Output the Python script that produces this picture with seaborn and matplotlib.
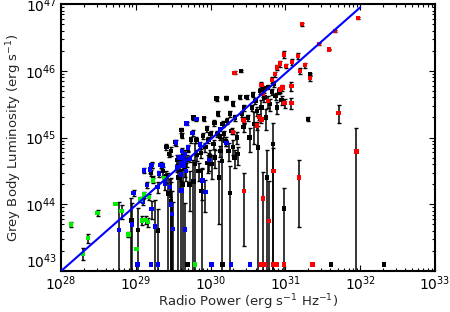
import numpy as np
import pandas as pd
import matplotlib
matplotlib.use("Agg")
import matplotlib.pyplot as plt
import matplotlib.ticker as mtick
import seaborn as sns

# values are log10 of radio power / grey body luminosity, err is relative (dy / y)
black_logp = [28.94, 29.03, 29.20, 29.23, 29.30, 29.36, 29.40, 29.43, 29.47, 29.41,
              29.44, 29.47, 29.52, 29.55, 29.57, 29.59, 29.61, 29.62, 29.63, 29.66,
              29.68, 29.70, 29.72, 29.74, 29.77, 29.77, 29.79, 29.81, 29.82, 29.84,
              29.87, 29.88, 29.90, 29.91, 29.93, 29.95, 29.96, 29.97, 29.99, 30.00,
              30.02, 30.04, 30.05, 30.06, 30.08, 30.09, 30.10, 30.11, 30.125, 30.13,
              30.15, 30.16, 30.18, 30.20, 30.21, 30.22, 30.24, 30.26, 30.26, 30.28,
              30.30, 30.30, 30.32, 30.33, 30.35, 30.36, 30.39, 30.41, 30.42, 30.44,
              30.45, 30.48, 30.50, 30.52, 30.55, 30.57, 30.58, 30.60, 30.62, 30.63,
              30.66, 30.68, 30.705, 30.72, 30.74, 30.75, 30.77, 30.79, 30.82, 30.83,
              30.85, 30.87, 30.89, 30.92, 30.95, 30.98, 31.30, 31.33,
              29.69, 30.16, 31.61, 32.32]
black_logl = [43.76, 43.62, 44.47, 44.38, 43.61, 44.50, 44.42, 44.16, 44.05, 44.86,
              44.75, 44.80, 44.93, 44.66, 44.40, 44.50, 45.11, 45.03, 44.30, 44.56,
              44.66, 44.83, 44.30, 44.97, 45.30, 44.34, 44.60, 44.96, 44.74, 44.50,
              44.77, 44.20, 45.02, 45.285, 44.86, 45.135, 44.62, 44.96, 44.72, 45.05,
              44.60, 44.90, 45.22, 44.70, 45.585, 45.05, 45.36, 44.40, 45.01, 44.80,
              44.65, 45.20, 45.05, 44.95, 45.595, 45.25, 44.80, 44.17, 45.36, 45.10,
              44.86, 45.51, 44.70, 45.30, 45.00, 44.75, 45.61, 46.00, 45.35, 45.16,
              45.45, 45.61, 45.30, 45.00, 45.45, 45.645, 45.20, 45.55, 45.40, 44.85,
              45.70, 45.45, 45.735, 45.60, 45.30, 44.40, 45.76, 45.50, 45.685, 44.90,
              45.80, 45.62, 45.45, 45.70, 45.56, 43.94, 45.28, 45.95,
              43.10, 43.10, 43.10, 43.10]
black_err = [1.2, 1.1, 0.1, 0.1, 1.1, 0.15, 0.2, 1.05, 1.2, 0.1,
             0.1, 0.15, 0.1, 0.2, 1.1, 0.5, 0.08, 0.08, 1.1, 0.3,
             0.2, 0.1, 0.6, 0.1, 0.07, 1.1, 1.1, 0.1, 0.2, 0.3,
             0.15, 1.2, 0.1, 0.07, 0.15, 0.1, 0.3, 0.1, 0.25, 0.1,
             0.4, 0.15, 0.1, 0.3, 0.07, 0.1, 0.08, 0.8, 0.1, 0.2,
             1.2, 0.1, 0.1, 0.15, 0.07, 0.1, 0.3, 1.5, 0.1, 0.1,
             0.25, 0.08, 0.3, 0.1, 0.2, 0.3, 0.07, 0.03, 0.1, 0.15,
             0.1, 0.08, 0.1, 0.4, 0.1, 0.08, 0.5, 0.1, 0.15, 1.1,
             0.1, 0.3, 0.1, 0.15, 0.35, 1.6, 0.08, 0.2, 0.1, 1.1,
             0.1, 0.12, 0.2, 0.1, 0.15, 1.0, 0.08, 0.05,
             0.0, 0.0, 0.0, 0.0]

blue_logp = [28.775, 28.945, 28.97, 29.10, 29.11, 29.15, 29.19, 29.21, 29.21, 29.22,
             29.26, 29.29, 29.31, 29.33, 29.355, 29.39, 29.46, 29.47, 29.48, 29.50,
             29.54, 29.55, 29.58, 29.60, 29.60, 29.61, 29.62, 29.63, 29.64, 29.65,
             29.66, 29.66, 29.67, 29.68, 29.70, 29.72, 29.76, 29.81, 29.86, 29.89,
             29.93, 29.98, 30.125, 30.21,
             29.025, 29.20, 29.30, 30.01, 30.27, 30.53]
blue_logl = [43.62, 43.70, 44.17, 44.035, 44.51, 44.29, 44.52, 44.585, 43.935, 44.59,
             43.67, 44.26, 44.46, 44.59, 44.58, 44.31, 44.26, 43.995, 43.86, 43.635,
             44.925, 44.55, 44.70, 44.62, 44.45, 44.21, 44.80, 44.70, 44.58, 44.65,
             44.75, 43.625, 44.50, 45.21, 44.85, 44.68, 45.07, 45.275, 44.895, 44.36,
             44.185, 44.66, 45.125, 44.92,
             43.10, 43.10, 43.10, 43.10, 43.10, 43.10]
blue_err = [1.6, 1.1, 0.1, 0.1, 0.08, 0.1, 0.1, 0.1, 0.3, 0.1,
            1.5, 0.2, 0.1, 0.1, 0.1, 0.2, 0.3, 1.2, 1.2, 1.5,
            0.1, 0.15, 0.1, 0.1, 0.2, 1.0, 0.1, 0.1, 0.1, 0.1,
            0.15, 1.5, 0.3, 0.05, 0.1, 0.1, 0.1, 0.05, 0.1, 0.5,
            0.5, 0.3, 0.05, 0.1,
            0.0, 0.0, 0.0, 0.0, 0.0, 0.0]

green_logp = [28.134, 28.29, 28.36, 28.49, 28.73, 28.81, 28.90, 29.01, 29.06, 29.08,
              29.11, 29.13, 29.16, 29.18, 29.23, 29.38, 29.79]
green_logl = [43.70, 43.26, 43.495, 43.875, 44.005, 43.90, 43.55, 43.33, 44.075, 43.76,
              44.145, 43.77, 43.735, 44.11, 44.36, 44.395, 43.10]
green_err = [0.1, 0.2, 0.17, 0.1, 0.0, 0.25, 0.1, 0.0, 0.1, 0.15,
             0.1, 0.15, 0.15, 0.1, 0.1, 0.0, 0.0]

red_logp = [30.30, 30.32, 30.44, 30.45, 30.45, 30.62, 30.65, 30.68, 30.68, 30.70,
            30.70, 30.77, 30.78, 30.82, 30.84, 30.86, 30.89, 30.93, 30.93, 30.96,
            30.98, 30.99, 31.01, 31.08, 31.08, 31.09, 31.17, 31.18, 31.195, 31.22,
            31.26, 31.33, 31.45, 31.58, 31.66, 31.71, 31.95, 31.97,
            30.67, 30.73, 30.84, 30.88, 30.98, 31.36]
red_logl = [45.08, 45.97, 45.26, 45.25, 44.20, 45.18, 45.31, 45.27, 45.79, 45.65,
            44.09, 45.545, 43.75, 45.86, 44.50, 45.95, 46.05, 46.11, 45.72, 45.75,
            46.245, 45.52, 46.075, 45.77, 45.52, 46.135, 46.225, 44.40, 46.00, 46.70,
            46.085, 45.89, 46.40, 46.32, 46.60, 45.37, 44.79, 46.79,
            43.10, 43.10, 43.10, 43.10, 43.10, 43.10]
red_err = [0.05, 0.05, 0.1, 0.1, 0.85, 0.15, 0.1, 0.1, 0.1, 0.1,
           1.5, 0.2, 3.0, 0.1, 1.2, 0.08, 0.08, 0.1, 0.1, 0.1,
           0.12, 0.15, 0.08, 0.15, 0.2, 0.1, 0.1, 0.82, 0.1, 0.05,
           0.08, 0.1, 0.03, 0.03, 0.03, 0.3, 1.28, 0.03,
           0.0, 0.0, 0.0, 0.0, 0.0, 0.0]

# best-fit relation: log L = slope * log P + intercept, over this log P range
fit_slope = 0.9875
fit_intercept = 15.35
fit_logp = [28.0, 32.0]

groups = [
    ("black", black_logp, black_logl, black_err),
    ("blue", blue_logp, blue_logl, blue_err),
    ("green", green_logp, green_logl, green_err),
    ("red", red_logp, red_logl, red_err),
]
colors = {"black": "#000000", "blue": "#0000ff", "green": "#00ee00", "red": "#ff0000"}

frames = []
for name, lp, ll, er in groups:
    frames.append(pd.DataFrame({"P": 10.0 ** np.array(lp), "L": 10.0 ** np.array(ll),
                                "err": np.array(er), "group": name}))
df = pd.concat(frames, ignore_index=True)

sns.set_style("ticks")
plt.rcParams["font.family"] = ["DejaVu Sans"]
plt.rcParams["mathtext.default"] = "regular"

fig = plt.figure(figsize=(4.5, 3.12), dpi=100)
ax = fig.add_axes([0.1356, 0.131, 0.8311, 0.856])
ax.set_xscale("log")
ax.set_yscale("log")

# error bars (symmetric in linear space, lower end clipped at the axis)
e = df[df["err"] > 0]
lo = np.where(e["err"] >= 1, e["L"] - 1e40, e["err"] * e["L"])
hi = e["err"] * e["L"]
ax.errorbar(e["P"], e["L"], yerr=[lo, hi], fmt="none", ecolor="black",
            elinewidth=1.1, capsize=1.6, capthick=1.0, zorder=2)

for name in ["black", "blue", "green", "red"]:
    sub = df[df["group"] == name]
    sns.scatterplot(data=sub, x="P", y="L", ax=ax, marker="s", s=10,
                    color=colors[name], edgecolor="none", linewidth=0, zorder=3)

fx = 10.0 ** np.array(fit_logp)
fy = 10.0 ** (fit_slope * np.array(fit_logp) + fit_intercept)
sns.lineplot(x=fx, y=fy, ax=ax, color="#0000ff", linewidth=1.5, zorder=4)

ax.set_xlim(1e28, 1e33)
ax.set_ylim(1e43, 1e47)
ax.xaxis.set_major_locator(mtick.LogLocator(base=10, numticks=10))
ax.yaxis.set_major_locator(mtick.LogLocator(base=10, numticks=10))
ax.xaxis.set_minor_locator(mtick.LogLocator(base=10, subs=np.arange(2, 10), numticks=20))
ax.yaxis.set_minor_locator(mtick.LogLocator(base=10, subs=np.arange(2, 10), numticks=20))
fmt = mtick.FuncFormatter(lambda v, p: r"$10^{%d}$" % round(np.log10(v)))
ax.xaxis.set_major_formatter(fmt)
ax.yaxis.set_major_formatter(fmt)
ax.tick_params(which="both", direction="in", top=True, right=True, width=0.8, colors="black")
ax.tick_params(which="major", length=4, labelsize=10)
ax.tick_params(axis="x", which="major", pad=2)
ax.tick_params(axis="y", which="major", pad=3)
ax.tick_params(which="minor", length=2)
for sp in ax.spines.values():
    sp.set_linewidth(1.5)
    sp.set_color("black")

ax.set_xlabel(r"Radio Power (erg s$^{-1}$ Hz$^{-1}$)", fontsize=9.5, labelpad=0)
ax.set_ylabel(r"Grey Body Luminosity (erg s$^{-1}$)", fontsize=9.5, labelpad=1)

# lowest y label sits above its tick so it clears the x labels
fig.canvas.draw()
for tick in ax.yaxis.get_major_ticks():
    if abs(tick.get_loc() - 1e43) / 1e43 < 1e-6:
        tick.label1.set_verticalalignment("bottom")

fig.savefig("out.png", dpi=100)
